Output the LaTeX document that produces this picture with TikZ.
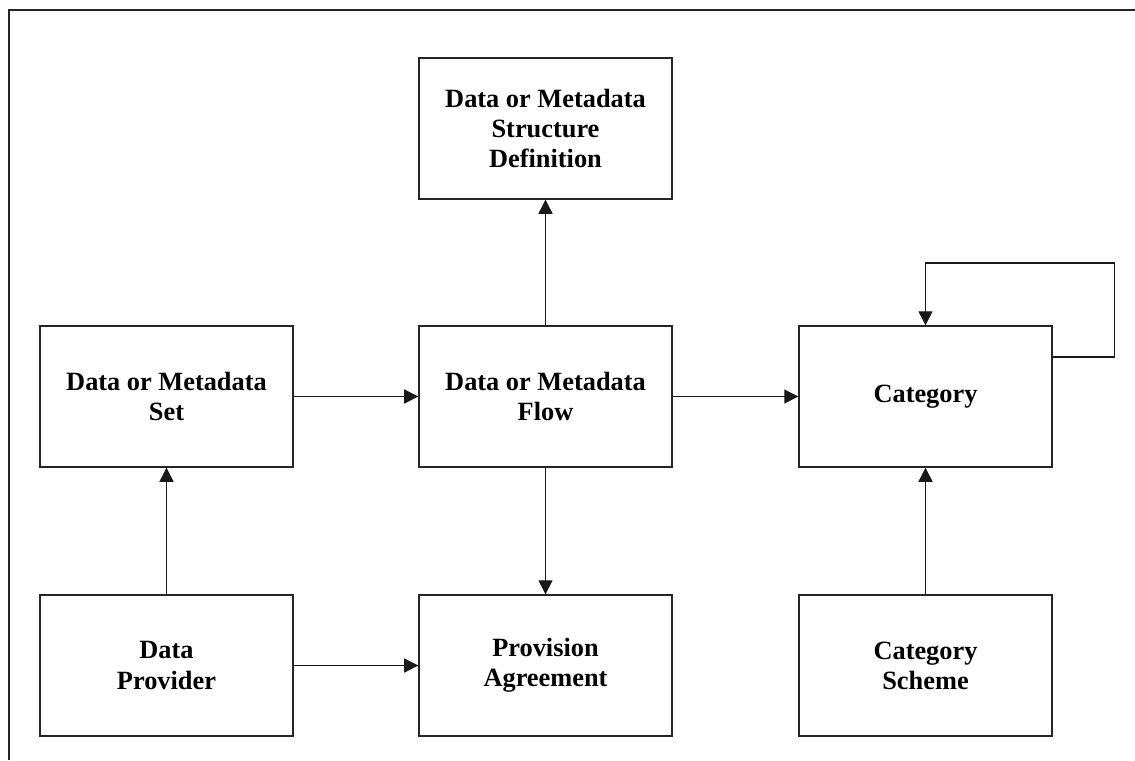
\documentclass[tikz,border=0pt]{standalone}
\usepackage{fontspec}
\setmainfont{Liberation Serif}
\usetikzlibrary{arrows.meta, positioning}

\begin{document}
\begin{tikzpicture}[box/.style = {draw=black!85, line width=0.8pt, fill=white,
                                  minimum width=5.06cm, minimum height=2.82cm,
                                  align=center, inner sep=2pt,
                                  font=\fontsize{15}{17.2}\selectfont\bfseries},
                    arr/.style = {draw=black!90, line width=0.7pt,
                                  -{Triangle[length=8pt, width=8pt]}}]

    \useasboundingbox (0,0) rectangle (22.7,-15.2);
    \draw[line width=1.1pt, black!85] (0.18,-15.2) -- (0.18,-0.2) -- (22.7,-0.2);

    % middle row
    \node[box] (flow) at (10.91,-7.93) {Data or Metadata\\Flow};
    \node[box] (set)  at (3.33,-7.93)  {Data or Metadata\\Set};
    \node[box] (cat)  at (18.51,-7.93) {Category};

    % top and bottom rows
    \node[box] (dsd)  at (10.91,-2.57)  {Data or Metadata\\Structure\\Definition};
    \node[box] (prov) at (3.33,-13.31)  {Data\\Provider};
    \node[box] (agr)  at (10.91,-13.31) {Provision\\Agreement};
    \node[box] (sch)  at (18.51,-13.31) {Category\\Scheme};

    \draw[arr] (set) -- (flow);
    \draw[arr] (flow) -- (cat);
    \draw[arr] (flow) -- (dsd);
    \draw[arr] (flow) -- (agr);
    \draw[arr] (prov) -- (set);
    \draw[arr] (prov) -- (agr);
    \draw[arr] (sch) -- (cat);

    \draw[arr] ([yshift=7.9mm]cat.east) -- ++(1.24,0) -- ++(0,1.88) -| (cat.north);

\end{tikzpicture}
\end{document}
